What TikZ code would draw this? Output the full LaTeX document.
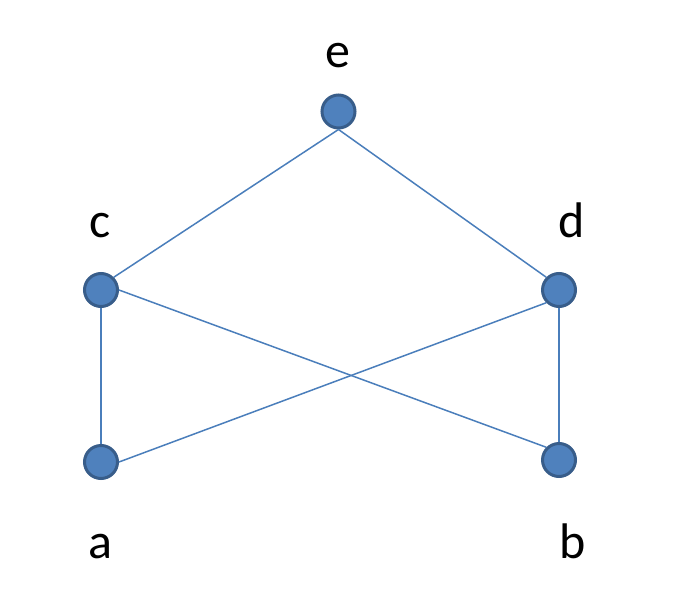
\documentclass[tikz,border=0pt]{standalone}
\usepackage{fontspec}
\setmainfont{Carlito}
\definecolor{vfill}{HTML}{4F81BD}
\definecolor{vdraw}{HTML}{385D8A}
\definecolor{edgec}{HTML}{4A7EBB}
\begin{document}
\begin{tikzpicture}[x=1pt,y=-1pt,
  vert/.style={circle,fill=vfill,draw=vdraw,line width=3pt,minimum size=33pt,inner sep=0pt},
  lbl/.style={anchor=base,font=\fontsize{50}{60}\selectfont,inner sep=0pt},
  edge/.style={draw=edgec,line width=1.5pt}]
\useasboundingbox (0,0) rectangle (684,588);
\node[lbl] (le) at (338,68) {e};
\node[lbl] (lc) at (100,237) {c};
\node[lbl] (ld) at (572,237) {d};
\node[lbl] (la) at (100,558) {a};
\node[lbl] (lb) at (573,558) {b};
\coordinate (pe) at (338.5,111.5);
\coordinate (pc) at (101,290);
\coordinate (pd) at (559,290);
\coordinate (pa) at (101,462);
\coordinate (pb) at (559,460);
\node[vert] (e) at (pe) {};
\node[vert] (c) at (pc) {};
\node[vert] (d) at (pd) {};
\node[vert] (a) at (pa) {};
\node[vert] (b) at (pb) {};
\draw[edge] (e.south) -- (c.north east);
\draw[edge] (e.south) -- (d.north west);
\draw[edge] (c.south) -- (a.north);
\draw[edge] (c.east) -- (b.north west);
\draw[edge] (d.south west) -- (a.east);
\draw[edge] (d.south) -- (b.north);
\end{tikzpicture}
\end{document}
